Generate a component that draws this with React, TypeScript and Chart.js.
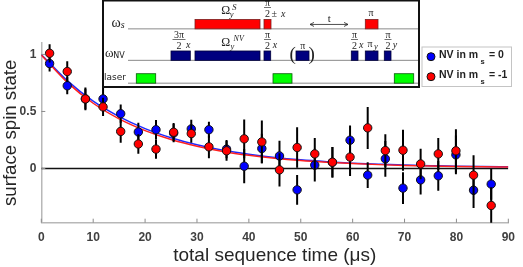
import React, { useEffect, useRef } from "react";
import { Chart, registerables } from "chart.js";

Chart.register(...registerables);

const times = [1.6, 5, 8.5, 11.9, 15.3, 18.7, 22.1, 25.5, 28.9, 32.3, 35.7, 39.1, 42.5, 45.9, 49.3, 52.7, 56.1, 59.5, 62.9, 66.3, 69.7, 73.1, 76.5, 79.9, 83.3, 86.7];
const blueValues = [0.92, 0.725, 0.61, 0.61, 0.48, 0.32, 0.34, 0.31, 0.347, 0.34, 0.17, 0.02, 0.175, 0.11, -0.187, 0.03, 0.055, 0.248, -0.058, 0.085, -0.172, -0.1, -0.064, 0.12, -0.19, -0.137];
const redValues = [1.01, 0.85, 0.61, 0.54, 0.325, 0.215, 0.17, 0.318, 0.306, 0.19, 0.155, 0.26, 0.233, -0.012, 0.184, 0.128, 0.055, 0.1, 0.356, 0.157, 0.16, 0.04, 0.128, 0.155, -0.058, -0.324];
const blueErrors = [0.07, 0.075, 0.09, 0.11, 0.08, 0.08, 0.085, 0.08, 0.08, 0.07, 0.08, 0.15, 0.13, 0.134, 0.13, 0.143, 0.134, 0.128, 0.113, 0.157, 0.14, 0.128, 0.13, 0.17, 0.157, 0.137];
const redErrors = [0.08, 0.09, 0.1, 0.08, 0.1, 0.085, 0.085, 0.08, 0.08, 0.1, 0.087, 0.17, 0.187, 0.146, 0.178, 0.14, 0.134, 0.166, 0.184, 0.143, 0.18, 0.134, 0.14, 0.19, 0.175, 0.16];
const fitTimes = [0, 5, 10, 15, 20, 25, 30, 35, 40, 45, 50, 55, 60, 65, 70, 75, 80, 85, 90];
const blueFit = [1.0, 0.77, 0.59, 0.455, 0.35, 0.27, 0.208, 0.16, 0.125, 0.097, 0.076, 0.06, 0.047, 0.038, 0.03, 0.025, 0.02, 0.017, 0.015];
const redFit = [0.995, 0.755, 0.572, 0.435, 0.332, 0.254, 0.195, 0.15, 0.116, 0.09, 0.07, 0.055, 0.043, 0.034, 0.027, 0.022, 0.018, 0.015, 0.013];
const xTicks = [0, 10, 20, 30, 40, 50, 60, 70, 80, 90];
const yTicks = [0, 0.5, 1];

const pulseRows = { s: [19.3, 28.7], nv: [50.7, 60], laser: [73.3, 82.7] };
const surfacePulses = [[93, 158], [162, 169], [263.3, 276]];
const nvPulses = [[69, 88.3], [93, 158], [162, 168.7], [194, 207], [249.3, 256], [263.3, 276], [282.3, 289]];
const laserPulses = [[34.3, 53.7], [171, 190], [292.3, 311.7]];
const rowLines = [[26, 316, 28.7], [26, 316, 60], [26, 316, 82.7]];

const legendLabels = ["NV in m", "s"];

const errorBars = (values: number[], errors: number[]) => {
  const out: { x: number; y: number }[] = [];
  times.forEach((t, i) => {
    out.push({ x: t, y: values[i] - errors[i] }, { x: t, y: values[i] + errors[i] }, { x: t, y: NaN });
  });
  return out;
};
const pairs = (xs: number[], ys: number[]) => xs.map((x, i) => ({ x, y: ys[i] }));

const SANS = '"Liberation Sans", Arial, sans-serif';
const SERIF = '"Liberation Serif", serif';

export default function App() {
  const mainRef = useRef<HTMLCanvasElement>(null);
  const insetRef = useRef<HTMLCanvasElement>(null);

  useEffect(() => {
    document.body.style.margin = "0";
    const frame = {
      id: "frame",
      afterDraw(chart: any) {
        const { ctx, scales } = chart;
        const { x, y } = scales;
        ctx.save();
        ctx.strokeStyle = "#8c8c8c";
        ctx.lineWidth = 1;
        ctx.beginPath();
        xTicks.forEach((t) => {
          const p = x.getPixelForValue(t);
          ctx.moveTo(p, y.bottom);
          ctx.lineTo(p, y.bottom - 4);
        });
        yTicks.forEach((t) => {
          const p = y.getPixelForValue(t);
          ctx.moveTo(x.left, p);
          ctx.lineTo(x.left + 4, p);
        });
        ctx.stroke();

        // legend
        ctx.fillStyle = "#fff";
        ctx.strokeStyle = "#c4c4c4";
        ctx.lineWidth = 1;
        ctx.fillRect(422, 47, 89.5, 39.5);
        ctx.strokeRect(422, 47, 89.5, 39.5);
        const rows: [number, string, string][] = [
          [56.7, "#0000ff", "= 0"],
          [76.7, "#ff0000", "= -1"],
        ];
        rows.forEach(([cy, col, tail]) => {
          ctx.beginPath();
          ctx.arc(431, cy, 4, 0, Math.PI * 2);
          ctx.fillStyle = col;
          ctx.fill();
          ctx.strokeStyle = "#111";
          ctx.lineWidth = 1;
          ctx.stroke();
          ctx.fillStyle = "#222";
          ctx.textBaseline = "alphabetic";
          ctx.textAlign = "left";
          ctx.font = `bold 10.5px ${SANS}`;
          const base = cy + 1.5;
          ctx.fillText(legendLabels[0], 439, base);
          ctx.fillText(tail, 489, base);
          ctx.font = `bold 7.5px ${SANS}`;
          ctx.fillText(legendLabels[1], 480.5, base + 6);
        });
        ctx.restore();
      },
    };

    const main = new Chart(mainRef.current!, {
      type: "scatter",
      data: {
        datasets: [
          { label: "zero", data: pairs([0, 90], [0, 0]), showLine: true, pointRadius: 0, borderColor: "#111", borderWidth: 1.5, order: 7 },
          { label: "fit m=0", data: pairs(fitTimes, blueFit), showLine: true, pointRadius: 0, borderColor: "#1f2bff", borderWidth: 1.5, cubicInterpolationMode: "monotone", order: 6 },
          { label: "fit m=-1", data: pairs(fitTimes, redFit), showLine: true, pointRadius: 0, borderColor: "#ff2020", borderWidth: 1.5, cubicInterpolationMode: "monotone", order: 5 },
          { label: "err m=0", data: errorBars(blueValues, blueErrors), showLine: true, spanGaps: false, pointRadius: 0, borderColor: "#000", borderWidth: 2, order: 4 },
          { label: "NV in ms = 0", data: pairs(times, blueValues), pointRadius: 4.2, pointBackgroundColor: "#0000ff", pointBorderColor: "#111", pointBorderWidth: 1, order: 3 },
          { label: "err m=-1", data: errorBars(redValues, redErrors), showLine: true, spanGaps: false, pointRadius: 0, borderColor: "#000", borderWidth: 2, order: 2 },
          { label: "NV in ms = -1", data: pairs(times, redValues), pointRadius: 4.2, pointBackgroundColor: "#ff0000", pointBorderColor: "#111", pointBorderWidth: 1, order: 1 },
        ] as any,
      },
      options: {
        animation: false,
        responsive: false,
        layout: { padding: { top: 43, right: 10, left: 0, bottom: 0 } },
        plugins: { legend: { display: false }, tooltip: { enabled: false } },
        scales: {
          x: {
            type: "linear",
            min: 0,
            max: 90,
            afterFit: (s: any) => { s.height = 44.3; },
            afterBuildTicks: (s: any) => { s.ticks = xTicks.map((value) => ({ value })); },
            grid: { display: false, drawTicks: false },
            border: { color: "#b8b8b8", width: 1.5 },
            ticks: { padding: 8, maxRotation: 0, color: "#404040", font: { family: SANS, size: 12, weight: "bold" } },
            title: { display: true, text: "total sequence time (\u03bcs)", color: "#262626", padding: { top: 2, bottom: 0 }, font: { family: SANS, size: 19 } },
          },
          y: {
            type: "linear",
            min: -0.475,
            max: 1.1,
            afterFit: (s: any) => { s.width = 41.3; },
            afterBuildTicks: (s: any) => { s.ticks = yTicks.map((value) => ({ value })); },
            grid: { display: false, drawTicks: false },
            border: { color: "#b8b8b8", width: 1.5 },
            ticks: { padding: 5, color: "#404040", font: { family: SANS, size: 12, weight: "bold" }, callback: (v: any) => String(v) },
            title: { display: true, text: "surface spin state", color: "#262626", padding: 0, font: { family: SANS, size: 18.7 } },
          },
        },
      } as any,
      plugins: [frame],
    });

    const schematic = {
      id: "schematic",
      afterDraw(chart: any) {
        const { ctx, scales } = chart;
        const X = (v: number) => scales.x.getPixelForValue(v);
        const Y = (v: number) => scales.y.getPixelForValue(v);
        ctx.save();
        ctx.fillStyle = "#fff";
        ctx.fillRect(0, 0, chart.width, chart.height);
        ctx.strokeStyle = "#111";
        ctx.lineWidth = 2;
        ctx.strokeRect(1, 0.5, chart.width - 2, chart.height - 1.5);

        ctx.strokeStyle = "#8a8a8a";
        ctx.lineWidth = 1;
        rowLines.forEach(([a, b, h]) => {
          ctx.beginPath();
          ctx.moveTo(X(a), Y(h));
          ctx.lineTo(X(b), Y(h));
          ctx.stroke();
        });
        const draw = (list: number[][], row: number[], fill: string, edge: string) => {
          list.forEach(([a, b]) => {
            ctx.fillStyle = fill;
            ctx.fillRect(X(a), Y(row[0]), X(b) - X(a), Y(row[1]) - Y(row[0]));
            ctx.strokeStyle = edge;
            ctx.lineWidth = 0.8;
            ctx.strokeRect(X(a), Y(row[0]), X(b) - X(a), Y(row[1]) - Y(row[0]));
          });
        };
        draw(surfacePulses, pulseRows.s, "#ff0000", "#7a2020");
        draw(nvPulses, pulseRows.nv, "#00007f", "#00003a");
        draw(laserPulses, pulseRows.laser, "#00ff00", "#0a5a0a");

        ctx.fillStyle = "#222";
        ctx.textBaseline = "alphabetic";
        const t = (s: string, x: number, y: number, size: number, font = SERIF, align = "center", style = "") => {
          ctx.font = `${style} ${size}px ${font}`;
          ctx.textAlign = align;
          ctx.fillText(s, x, y);
        };
        const frac = (cx: number, top: string, fy: number) => {
          t(top, cx, 6 + fy, 10);
          ctx.strokeStyle = "#333";
          ctx.lineWidth = 0.7;
          ctx.beginPath();
          const half = top.length > 1 ? 6.5 : 3.5;
          ctx.moveTo(cx - half, 7.5 + fy);
          ctx.lineTo(cx + half, 7.5 + fy);
          ctx.stroke();
          t("2", cx, 16.5 + fy, 10);
        };
        // row labels
        t("\u03c9", 14, 26.7, 14);
        t("s", 20.7, 28, 10, SERIF, "center", "italic");
        t("\u03c9", 7.3, 56.7, 13);
        t("NV", 11.3, 57.5, 8, '"DejaVu Sans"', "left");
        t("laser", 2, 80, 9, '"DejaVu Sans"', "left");
        // surface row
        t("\u03a9", 123.7, 14, 12);
        t("S", 130.3, 10, 8.5, SERIF, "left", "italic");
        t("y", 129.7, 17.3, 8.5, SERIF, "center", "italic");
        frac(165.5, "\u03c0", 0);
        t("\u00b1", 172.3, 16.7, 10);
        t("x", 181.3, 16.7, 10, SERIF, "center", "italic");
        t("t", 227.3, 21.7, 11);
        t("\u03c0", 269, 15.7, 10);
        // t arrow
        ctx.strokeStyle = "#222";
        ctx.lineWidth = 0.8;
        ctx.beginPath();
        ctx.moveTo(X(208), Y(24.3));
        ctx.lineTo(X(246), Y(24.3));
        ctx.moveTo(X(212), Y(22.3));
        ctx.lineTo(X(208), Y(24.3));
        ctx.lineTo(X(212), Y(26.3));
        ctx.moveTo(X(242), Y(22.3));
        ctx.lineTo(X(246), Y(24.3));
        ctx.lineTo(X(242), Y(26.3));
        ctx.stroke();
        // nv row
        frac(77, "3\u03c0", 32);
        t("x", 86.3, 48.3, 10, SERIF, "center", "italic");
        t("\u03a9", 123.7, 45.7, 12);
        t("NV", 136.7, 40.7, 8, SERIF, "center", "italic");
        t("y", 130.3, 49, 8.5, SERIF, "center", "italic");
        frac(165.5, "\u03c0", 32);
        t("x", 173, 48.3, 10, SERIF, "center", "italic");
        t("(", 190.7, 59.5, 19);
        t(")", 209.7, 59.5, 19);
        t("\u03c0", 200.7, 48.7, 10);
        frac(252.5, "\u03c0", 32);
        t("x", 259.3, 48.3, 10, SERIF, "center", "italic");
        t("\u03c0", 268, 46.7, 10);
        t("y", 274, 48.5, 8.5, SERIF, "center", "italic");
        frac(286, "\u03c0", 32);
        t("y", 293, 48.3, 10, SERIF, "center", "italic");
        ctx.restore();
      },
    };

    const inset = new Chart(insetRef.current!, {
      type: "scatter",
      data: { datasets: [{ data: [] }] },
      options: {
        animation: false,
        responsive: false,
        layout: { padding: 0 },
        plugins: { legend: { display: false }, tooltip: { enabled: false } },
        scales: {
          x: { type: "linear", min: 0, max: 318, display: false },
          y: { type: "linear", min: 0, max: 87.5, reverse: true, display: false },
        },
      } as any,
      plugins: [schematic],
    });

    return () => {
      main.destroy();
      inset.destroy();
    };
  }, []);

  return (
    <div style={{ position: "fixed", left: 0, top: 0, width: 523, height: 267, background: "#fff" }}>
      <canvas ref={mainRef} width={523} height={267} style={{ position: "absolute", left: 0, top: 0 }} />
      <canvas ref={insetRef} width={318} height={88} style={{ position: "absolute", left: 102, top: 0 }} />
    </div>
  );
}
